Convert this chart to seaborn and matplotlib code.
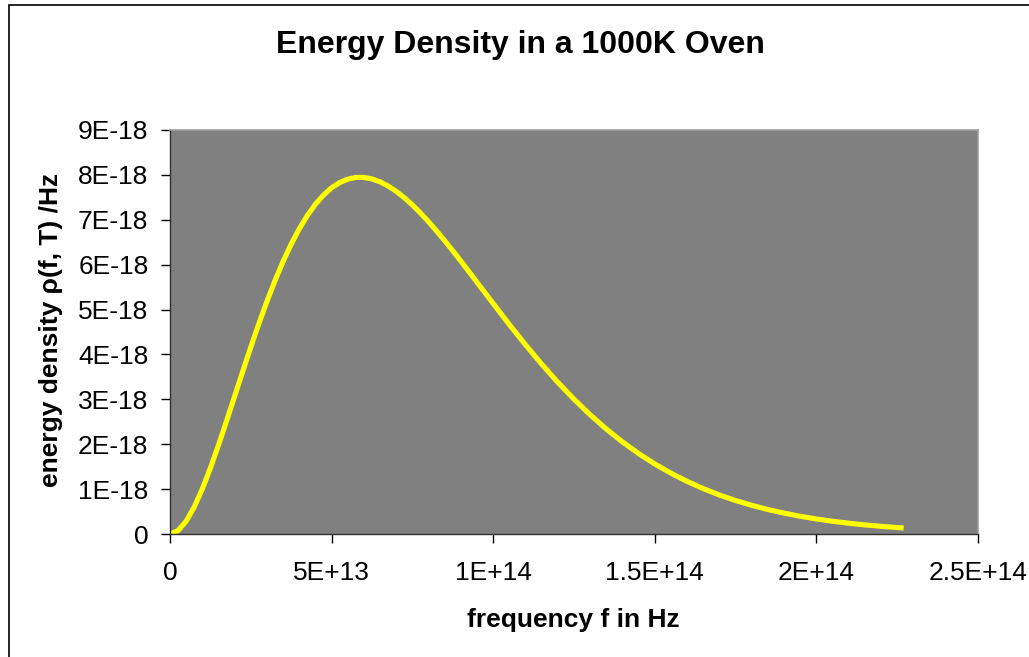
#!/usr/bin/env python3
"""Energy density of black-body radiation in a 1000K oven (Excel-style chart)."""

import matplotlib.pyplot as plt
from matplotlib.patches import Rectangle
import pandas
import seaborn as sns

# Data (frequency in Hz, energy density per Hz)
frequency = [0, 2.5e12, 5.0e12, 7.5e12, 1.00e13, 1.25e13, 1.50e13, 1.75e13,
             2.00e13, 2.25e13, 2.50e13, 2.75e13, 3.00e13, 3.25e13, 3.50e13,
             3.75e13, 4.00e13, 4.25e13, 4.50e13, 4.75e13, 5.00e13, 5.25e13,
             5.50e13, 5.75e13, 6.00e13, 6.25e13, 6.50e13, 6.75e13, 7.00e13,
             7.25e13, 7.50e13, 7.75e13, 8.00e13, 8.25e13, 8.50e13, 8.75e13,
             9.00e13, 9.25e13, 9.50e13, 9.75e13, 1.00e14, 1.05e14, 1.10e14,
             1.15e14, 1.20e14, 1.25e14, 1.30e14, 1.35e14, 1.40e14, 1.45e14,
             1.50e14, 1.55e14, 1.60e14, 1.65e14, 1.70e14, 1.75e14, 1.80e14,
             1.85e14, 1.90e14, 1.95e14, 2.00e14, 2.05e14, 2.10e14, 2.15e14,
             2.20e14, 2.27e14]
energy_density = [0, 0.076e-18, 0.285e-18, 0.602e-18, 1.003e-18, 1.469e-18,
                  1.979e-18, 2.517e-18, 3.069e-18, 3.621e-18, 4.164e-18,
                  4.687e-18, 5.183e-18, 5.647e-18, 6.073e-18, 6.458e-18,
                  6.799e-18, 7.095e-18, 7.346e-18, 7.551e-18, 7.712e-18,
                  7.829e-18, 7.905e-18, 7.943e-18, 7.943e-18, 7.910e-18,
                  7.845e-18, 7.752e-18, 7.633e-18, 7.492e-18, 7.329e-18,
                  7.150e-18, 6.956e-18, 6.750e-18, 6.533e-18, 6.309e-18,
                  6.078e-18, 5.844e-18, 5.607e-18, 5.370e-18, 5.133e-18,
                  4.666e-18, 4.214e-18, 3.784e-18, 3.379e-18, 3.003e-18,
                  2.656e-18, 2.338e-18, 2.051e-18, 1.792e-18, 1.560e-18,
                  1.354e-18, 1.172e-18, 1.011e-18, 0.869e-18, 0.746e-18,
                  0.639e-18, 0.545e-18, 0.465e-18, 0.395e-18, 0.335e-18,
                  0.284e-18, 0.240e-18, 0.203e-18, 0.171e-18, 0.134e-18]
x_ticks = [0, 5e13, 1e14, 1.5e14, 2e14, 2.5e14]
x_tick_labels = ["0", "5E+13", "1E+14", "1.5E+14", "2E+14", "2.5E+14"]
y_ticks = [0, 1e-18, 2e-18, 3e-18, 4e-18, 5e-18, 6e-18, 7e-18, 8e-18, 9e-18]
y_tick_labels = ["0", "1E-18", "2E-18", "3E-18", "4E-18", "5E-18", "6E-18",
                 "7E-18", "8E-18", "9E-18"]

df = pandas.DataFrame({"f": frequency, "rho": energy_density})

sns.set_style("white")
plt.rcParams["font.family"] = ["Liberation Sans", "DejaVu Sans"]
plt.rcParams["text.color"] = "black"
plt.rcParams["axes.labelcolor"] = "black"

W, H = 1029, 657
fig = plt.figure(figsize=(W / 100, H / 100), dpi=100)
ax = fig.add_axes([170 / W, 1 - 534 / H, (978 - 170) / W, (534 - 130) / H])
ax.set_facecolor("#808080")

sns.lineplot(data=df, x="f", y="rho", ax=ax, color="#FFFF00",
             linewidth=3.7, sort=False, estimator=None,
             solid_capstyle="butt", solid_joinstyle="round")

ax.set_xlim(0, 2.5e14)
ax.set_ylim(0, 9e-18)
ax.set_xticks(x_ticks)
ax.set_xticklabels(x_tick_labels)
ax.set_yticks(y_ticks)
ax.set_yticklabels(y_tick_labels)
ax.tick_params(axis="both", labelsize=19, colors="black", direction="out",
               length=6.5, width=1, left=True, bottom=True)
ax.tick_params(axis="y", pad=9)
ax.tick_params(axis="x", pad=13)

for side in ["left", "bottom"]:
    ax.spines[side].set_color("#303030")
    ax.spines[side].set_linewidth(1)
for side in ["top", "right"]:
    ax.spines[side].set_color("#a0a0a0")
    ax.spines[side].set_linewidth(1.2)

ax.set_xlabel("frequency f in Hz", fontsize=19, fontweight="bold")
ax.set_ylabel("energy density ρ(f, T) /Hz", fontsize=19, fontweight="bold")
ax.xaxis.set_label_coords((573.5 - 170) / (978 - 170), -(627 - 534) / 404)
ax.xaxis.label.set_va("baseline")
ax.yaxis.set_label_coords((63 - 170) / (978 - 170), (534 - 330) / 404)

fig.text(520 / W, 1 - 45 / H, "Energy Density in a 1000K Oven",
         fontsize=23, fontweight="bold", ha="center", va="center")

# Chart border (runs off the right and bottom of the image)
fig.patches.append(Rectangle((8.5 / W, -0.1), 1.2, 1.1 - 5 / H,
                             transform=fig.transFigure, fill=False,
                             edgecolor="black", linewidth=1.2))

plt.savefig("out.png", dpi=100)
